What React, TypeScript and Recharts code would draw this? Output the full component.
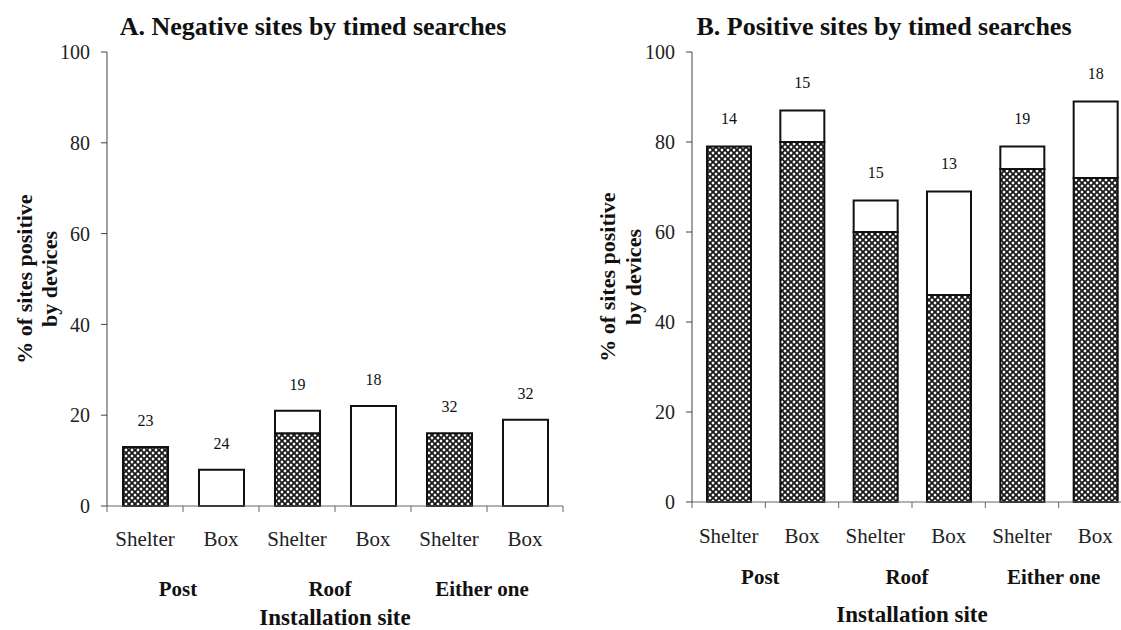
import React from 'react';
import { BarChart, Bar, XAxis, YAxis, LabelList } from 'recharts';

const siteTypes = ['Shelter', 'Box', 'Shelter', 'Box', 'Shelter', 'Box'];
const locations = ['Post', 'Post', 'Roof', 'Roof', 'Either one', 'Either one'];
const percentTicks = [0, 20, 40, 60, 80, 100];

// A. negative by timed searches: hatched part and full bar height (%), n above bar
const negHatched = [13, 0, 16, 0, 16, 0];
const negTotal = [13, 8, 21, 22, 16, 19];
const negCounts = [23, 24, 19, 18, 32, 32];

// B. positive by timed searches
const posHatched = [79, 80, 60, 46, 74, 72];
const posTotal = [79, 87, 67, 69, 79, 89];
const posCounts = [14, 15, 15, 13, 19, 18];

const serif = '"Liberation Serif", "Times New Roman", Times, serif';
const ink = '#111';
const axisGrey = '#666';

function buildRows(hatched: number[], total: number[], counts: number[]) {
  return siteTypes.map((type, i) => {
    const open = total[i] - hatched[i];
    return {
      type,
      location: locations[i],
      hatched: hatched[i],
      open,
      // the count goes on whichever segment is the top of the stack
      nHatched: open === 0 ? counts[i] : '',
      nOpen: open > 0 ? counts[i] : '',
    };
  });
}

function SubTick(props: any) {
  const { x, y, payload, index, visibleTicksCount, labelDy, bandHalf } = props;
  const half = (payload && payload.offset) || bandHalf;
  const last = index === visibleTicksCount - 1;
  return (
    <g>
      <line x1={x - half} x2={x - half} y1={y} y2={y + 6} stroke={axisGrey} />
      {last && <line x1={x + half} x2={x + half} y1={y} y2={y + 6} stroke={axisGrey} />}
      <text
        x={x}
        y={y + labelDy}
        textAnchor="middle"
        dominantBaseline="central"
        fontSize={21}
        fill="#222"
      >
        {payload.value}
      </text>
    </g>
  );
}

function GroupTick(props: any) {
  const { x, y, payload, labelDy } = props;
  return (
    <text
      x={x - 5}
      y={y + labelDy}
      textAnchor="middle"
      dominantBaseline="central"
      fontWeight="bold"
      fontSize={21}
      fill={ink}
    >
      {payload.value}
    </text>
  );
}

function YTitle(props: any) {
  const { viewBox, x1, x2 } = props;
  const vb = viewBox || { x: 0, y: 52, width: 100, height: 454 };
  const cy = vb.y + vb.height / 2;
  const a = vb.x + x1;
  const b = vb.x + x2;
  return (
    <g fontWeight="bold" fontSize={22} fill={ink}>
      <text x={a} y={cy} transform={`rotate(-90 ${a} ${cy})`} textAnchor="middle" dominantBaseline="central">
        % of sites positive
      </text>
      <text x={b} y={cy} transform={`rotate(-90 ${b} ${cy})`} textAnchor="middle" dominantBaseline="central">
        by devices
      </text>
    </g>
  );
}

function Hatch({ id }: { id: string }) {
  return (
    <defs>
      <pattern id={id} width={6} height={6} patternUnits="userSpaceOnUse">
        <rect width={6} height={6} fill="#1a1a1a" />
        <path d="M3 1.3 L4.7 3 L3 4.7 L1.3 3 Z" fill="#fff" />
        <path d="M0 -1.7 L1.7 0 L0 1.7 L-1.7 0 Z" fill="#fff" />
        <path d="M6 -1.7 L7.7 0 L6 1.7 L4.3 0 Z" fill="#fff" />
        <path d="M0 4.3 L1.7 6 L0 7.7 L-1.7 6 Z" fill="#fff" />
        <path d="M6 4.3 L7.7 6 L6 7.7 L4.3 6 Z" fill="#fff" />
      </pattern>
    </defs>
  );
}

interface PanelProps {
  id: string;
  rows: ReturnType<typeof buildRows>;
  left: number;
  width: number;
  marginRight: number;
  yAxisWidth: number;
  mainHeight: number;
  groupHeight: number;
  barSize: number;
  bandHalf: number;
  subDy: number;
  groupDy: number;
  countOffset: number;
  siteOffset: number;
  yTitleX: [number, number];
}

function Panel(p: PanelProps) {
  const countStyle = { fontSize: 16, fill: ink };
  return (
    <div style={{ position: 'absolute', left: p.left, top: 0 }}>
      <BarChart
        width={p.width}
        height={630}
        data={p.rows}
        margin={{ top: 52, right: p.marginRight, bottom: 0, left: 0 }}
      >
        <Hatch id={p.id} />
        {/* axis ids sort so that "a" (sub-categories) sits next to the plot */}
        <XAxis
          xAxisId="a"
          dataKey="type"
          interval={0}
          height={p.mainHeight}
          tickSize={0}
          tickMargin={0}
          tickLine={false}
          axisLine={{ stroke: axisGrey, strokeWidth: 1 }}
          tick={<SubTick labelDy={p.subDy} bandHalf={p.bandHalf} />}
        />
        <XAxis
          xAxisId="b"
          dataKey="location"
          allowDuplicatedCategory={false}
          interval={0}
          height={p.groupHeight}
          tickSize={0}
          tickMargin={0}
          tickLine={false}
          axisLine={false}
          tick={<GroupTick labelDy={p.groupDy} />}
          label={{
            value: 'Installation site',
            position: 'insideBottom',
            offset: p.siteOffset,
            fontWeight: 'bold',
            fontSize: 23,
            fill: ink,
          }}
        />
        <YAxis
          domain={[0, 100]}
          ticks={percentTicks}
          interval={0}
          width={p.yAxisWidth}
          tickSize={6}
          tickMargin={11}
          axisLine={{ stroke: '#444', strokeWidth: 1 }}
          tickLine={{ stroke: '#444' }}
          tick={{ fontSize: 20, fill: '#222' }}
          label={<YTitle x1={p.yTitleX[0]} x2={p.yTitleX[1]} />}
        />
        <Bar
          xAxisId="a"
          dataKey="hatched"
          stackId="s"
          barSize={p.barSize}
          fill={`url(#${p.id})`}
          stroke={ink}
          strokeWidth={2}
          isAnimationActive={false}
        >
          <LabelList dataKey="nHatched" position="top" offset={p.countOffset} {...countStyle} />
        </Bar>
        <Bar
          xAxisId="a"
          dataKey="open"
          stackId="s"
          barSize={p.barSize}
          fill="#fff"
          stroke={ink}
          strokeWidth={2}
          isAnimationActive={false}
        >
          <LabelList dataKey="nOpen" position="top" offset={p.countOffset} {...countStyle} />
        </Bar>
      </BarChart>
    </div>
  );
}

const titleStyle: React.CSSProperties = {
  position: 'absolute',
  top: 12,
  height: 30,
  lineHeight: '30px',
  fontFamily: serif,
  fontWeight: 'bold',
  fontSize: 26,
  color: ink,
  textAlign: 'center',
  whiteSpace: 'nowrap',
};

export default function App() {
  const negRows = buildRows(negHatched, negTotal, negCounts);
  const posRows = buildRows(posHatched, posTotal, posCounts);

  return (
    <div
      style={{
        position: 'absolute',
        left: 0,
        top: 0,
        width: 1121,
        height: 630,
        overflow: 'hidden',
        background: '#fff',
        fontFamily: serif,
      }}
    >
      <style>{`svg text { font-family: ${serif}; }`}</style>
      <Panel
        id="hatchA"
        rows={negRows}
        left={0}
        width={580}
        marginRight={17}
        yAxisWidth={107}
        mainHeight={48}
        groupHeight={76}
        barSize={45}
        bandHalf={38}
        subDy={33}
        groupDy={35}
        countOffset={21}
        siteOffset={5}
        yTitleX={[24, 49]}
      />
      <Panel
        id="hatchB"
        rows={posRows}
        left={560}
        width={600}
        marginRight={28}
        yAxisWidth={132}
        mainHeight={48}
        groupHeight={80}
        barSize={44}
        bandHalf={36.7}
        subDy={34}
        groupDy={27}
        countOffset={23}
        siteOffset={8}
        yTitleX={[47, 73]}
      />
      <div style={{ ...titleStyle, left: 113, width: 400 }}>A. Negative sites by timed searches</div>
      <div style={{ ...titleStyle, left: 684, width: 400 }}>B. Positive sites by timed searches</div>
    </div>
  );
}
